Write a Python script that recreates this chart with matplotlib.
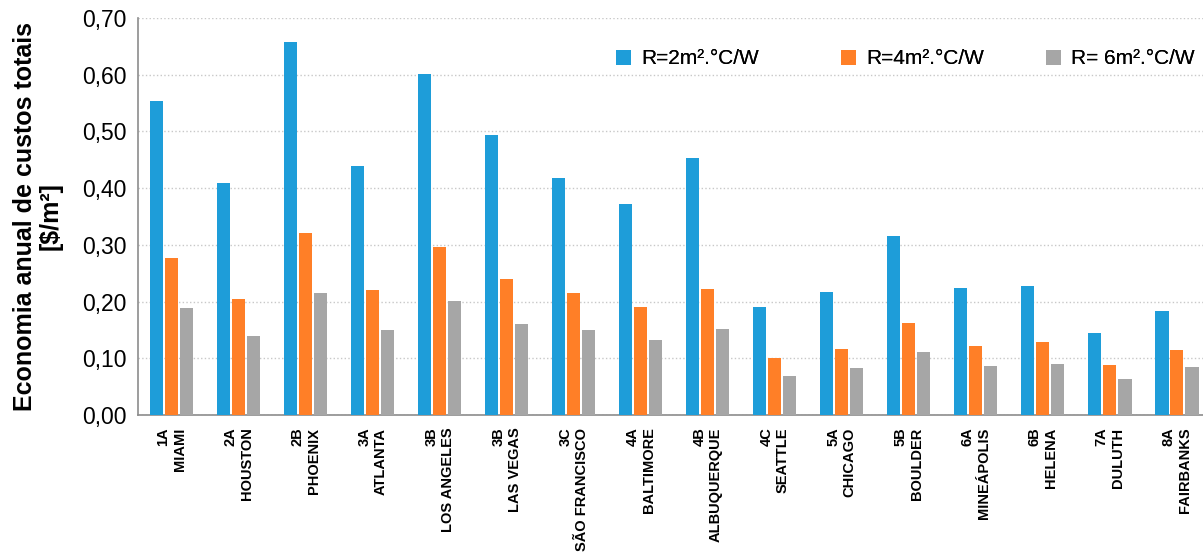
import matplotlib
matplotlib.use('Agg')
import matplotlib.pyplot as plt
import matplotlib.transforms as mtransforms
import numpy as np
from matplotlib.ticker import FuncFormatter, MultipleLocator

plt.rcParams['font.family'] = ['Liberation Sans', 'DejaVu Sans']

# Climate zones and cities
zones = ['1A', '2A', '2B', '3A', '3B', '3B', '3C', '4A',
         '4B', '4C', '5A', '5B', '6A', '6B', '7A', '8A']
cities = ['MIAMI', 'HOUSTON', 'PHOENIX', 'ATLANTA', 'LOS ANGELES', 'LAS VEGAS',
          'SÃO FRANCISCO', 'BALTIMORE', 'ALBUQUERQUE', 'SEATTLE', 'CHICAGO',
          'BOULDER', 'MINEÁPOLIS', 'HELENA', 'DULUTH', 'FAIRBANKS']

# Annual savings [$/m²] for each insulation level
r2 = [0.554, 0.409, 0.658, 0.439, 0.601, 0.494, 0.418, 0.372,
      0.453, 0.190, 0.217, 0.316, 0.224, 0.228, 0.145, 0.183]
r4 = [0.277, 0.205, 0.321, 0.220, 0.296, 0.240, 0.215, 0.190,
      0.223, 0.100, 0.116, 0.163, 0.121, 0.128, 0.088, 0.115]
r6 = [0.189, 0.139, 0.215, 0.149, 0.201, 0.161, 0.149, 0.132,
      0.152, 0.068, 0.082, 0.111, 0.086, 0.090, 0.063, 0.084]

series_labels = ['R=2m².°C/W', 'R=4m².°C/W', 'R= 6m².°C/W']
colors = ['#1E9DD9', '#FF7F27', '#A6A6A6']

fig = plt.figure(figsize=(12.03, 5.54), dpi=100)
ax = fig.add_axes([0.1147, 0.2509, 0.8853, 0.7166])

x = np.arange(len(cities))
w = 0.195
offsets = [-0.222, 0.0, 0.226]
bars = []
for vals, off, c, lab in zip([r2, r4, r6], offsets, colors, series_labels):
    bars.append(ax.bar(x + off, vals, width=w, color=c, label=lab, zorder=3))

ax.set_ylim(0, 0.70)
ax.set_xlim(-0.5, 15.39)
ax.yaxis.set_major_locator(MultipleLocator(0.1))
ax.yaxis.set_major_formatter(FuncFormatter(lambda v, p: f'{v:.2f}'.replace('.', ',')))
ax.grid(axis='y', linestyle=':', color='#C8C8C8', linewidth=1.0, zorder=0)

ax.set_xticks(x)
ax.set_xticklabels([f'{z}\n{c}' for z, c in zip(zones, cities)],
                   rotation=90, fontsize=10.5, fontweight='bold',
                   ha='center', va='top', multialignment='right',
                   linespacing=1.2)
# nudge the category labels a little to the right, as in the original
shift = mtransforms.ScaledTranslation(0.06, 0, fig.dpi_scale_trans)
for lbl in ax.get_xticklabels():
    lbl.set_transform(lbl.get_transform() + shift)

ax.tick_params(axis='both', length=0)
ax.tick_params(axis='y', labelsize=16.5, pad=8)
ax.tick_params(axis='x', pad=9)

for s in ['top', 'right']:
    ax.spines[s].set_visible(False)
for s in ['left', 'bottom']:
    ax.spines[s].set_color('#8C8C8C')
    ax.spines[s].set_linewidth(1.2)

ax.set_ylabel('Economia anual de custos totais\n[$/m²]', fontsize=18,
              fontweight='bold', labelpad=14, linespacing=1.1)

# legend entries sit in fixed slots across the top
legend_x = [616, 841, 1046]
for b, lab, px in zip(bars, series_labels, legend_x):
    leg = fig.legend([b], [lab], loc='center left',
                     bbox_to_anchor=(px / 1203, 1 - 59 / 554),
                     frameon=False, fontsize=15, handlelength=0.72,
                     handleheight=0.72, handletextpad=0.48,
                     borderpad=0, borderaxespad=0)
    fig.add_artist(leg)

plt.savefig('out.png', dpi=100)
